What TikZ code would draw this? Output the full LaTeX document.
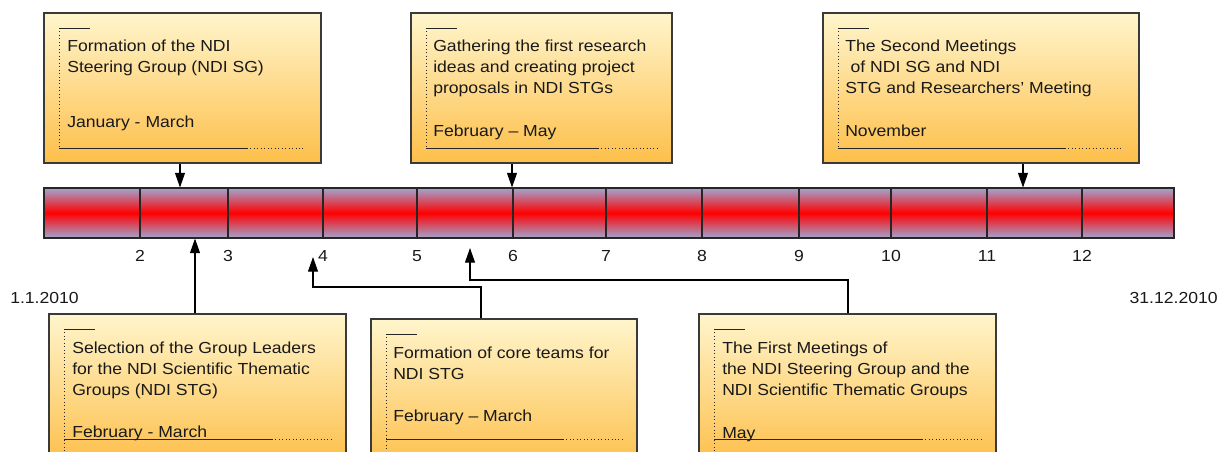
\documentclass[tikz,border=0pt]{standalone}
\usepackage{fontspec}
\setmainfont{Liberation Sans}[FakeStretch=1.1]
\usetikzlibrary{fit,arrows.meta}
\definecolor{boxtop}{HTML}{FFF5CC}
\definecolor{boxbot}{HTML}{FDBF4A}
\definecolor{barblue}{HTML}{A0A6D2}
\definecolor{edge}{HTML}{3A3A3A}
\newcommand\boxdeco[6]{%
  \draw[dotrule] (#1,#2) -- (#1,#4);
  \draw[solidrule] (#1,#2) -- ({#1+31},#2);
  \draw[solidrule] (#1,#3) -- (#5,#3);
  \draw[dotrule] (#5,#3) -- (#6,#3);
}
\begin{document}
\begin{tikzpicture}[x=0.75pt,y=-0.75pt,
  box/.style={draw=edge,line width=0.9pt,top color=boxtop,bottom color=boxbot,inner sep=0pt},
  seg/.style={draw=black!85,line width=0.8pt,top color=barblue,bottom color=barblue,middle color=red,inner sep=0pt},
  arr/.style={draw=black,line width=0.8pt,-{Triangle[length=11pt,width=7.5pt]}},
  txt/.style={font=\fontsize{12}{15.75}\selectfont,align=left,anchor=base west,inner sep=0pt,text=black!90},
  lbl/.style={font=\fontsize{12}{15.75}\selectfont,inner sep=0pt,anchor=base,text=black!90},
  solidrule/.style={line width=0.6pt,draw=black!85},
  dotrule/.style={line width=0.6pt,dotted,draw=black!85}]
\useasboundingbox (0,0) rectangle (1231,451);
\clip (0,0) rectangle (1231,451);

% month bar
\node[seg,fit={(44,188) (140,238)}] (m1) {};
\node[seg,fit={(140,188) (228,238)}] (m2) {};
\node[seg,fit={(228,188) (323,238)}] (m3) {};
\node[seg,fit={(323,188) (417,238)}] (m4) {};
\node[seg,fit={(417,188) (513,238)}] (m5) {};
\node[seg,fit={(513,188) (606,238)}] (m6) {};
\node[seg,fit={(606,188) (702,238)}] (m7) {};
\node[seg,fit={(702,188) (799,238)}] (m8) {};
\node[seg,fit={(799,188) (891,238)}] (m9) {};
\node[seg,fit={(891,188) (987,238)}] (m10) {};
\node[seg,fit={(987,188) (1082,238)}] (m11) {};
\node[seg,fit={(1082,188) (1174,238)}] (m12) {};

% month numbers
\node[lbl] (n2) at (140,261) {2};
\node[lbl] (n3) at (228,261) {3};
\node[lbl] (n4) at (323,261) {4};
\node[lbl] (n5) at (417,261) {5};
\node[lbl] (n6) at (513,261) {6};
\node[lbl] (n7) at (606,261) {7};
\node[lbl] (n8) at (702,261) {8};
\node[lbl] (n9) at (799,261) {9};
\node[lbl] (n10) at (891,261) {10};
\node[lbl] (n11) at (987,261) {11};
\node[lbl] (n12) at (1082,261) {12};

\node[lbl,anchor=base west] (start) at (10,303) {1.1.2010};
\node[lbl,anchor=base east] (end) at (1218,303) {31.12.2010};

% top boxes
\node[box,fit={(44,13) (321,163)}] (box1) {};
\boxdeco{59}{28}{148}{148}{247}{305}
\node[txt] (t1) at (67,72) {Formation of the NDI\\Steering Group (NDI SG)};
\node[txt] (d1) at (67,127) {January - March};

\node[box,fit={(411,13) (672,163)}] (box2) {};
\boxdeco{426}{28}{148}{148}{598}{657}
\node[txt] (t2) at (433,93) {Gathering the first research\\ideas and creating project\\proposals in NDI STGs};
\node[txt] (d2) at (433,136) {February – May};

\node[box,fit={(823,13) (1139,163)}] (box3) {};
\boxdeco{838}{28}{148}{148}{1065}{1123}
\node[txt] (t3) at (845,93) {The Second Meetings\\\hspace*{4pt}of NDI SG and NDI\\STG and Researchers’ Meeting};
\node[txt] (d3) at (845,136) {November};

% bottom boxes
\node[box,fit={(49,314) (346,464)}] (box4) {};
\boxdeco{64}{329}{439}{460}{272}{331}
\node[txt] (t4) at (72,395) {Selection of the Group Leaders\\for the NDI Scientific Thematic\\Groups (NDI STG)};
\node[txt] (d4) at (72,437) {February - March};

\node[box,fit={(371,319) (637,469)}] (box5) {};
\boxdeco{386}{334}{439}{460}{563}{622}
\node[txt] (t5) at (393,379) {Formation of core teams for\\NDI STG};
\node[txt] (d5) at (393,421) {February – March};

\node[box,fit={(699,314) (996,464)}] (box6) {};
\boxdeco{714}{329}{439}{460}{922}{981}
\node[txt] (t6) at (722,395) {The First Meetings of\\the NDI Steering Group and the\\NDI Scientific Thematic Groups};
\node[txt] (d6) at (722,438) {May};

% connectors
\coordinate (x1) at (180,0);
\coordinate (x2) at (512,0);
\coordinate (x3) at (1023,0);
\draw[arr] (box1.south -| x1) -- (m2.north -| x1);
\draw[arr] (box2.south -| x2) -- (m6.north -| x2);
\draw[arr] (box3.south -| x3) -- (m11.north -| x3);

\coordinate (x4) at (195,0);
\draw[arr] (box4.north -| x4) -- (m2.south -| x4);

\coordinate (k5a) at (481,287);
\coordinate (k5b) at (313,287);
\coordinate (tip5) at (313,257);
\draw[arr] (box5.north -| k5a) -- (k5a) -- (k5b) -- (tip5);

\coordinate (k6a) at (848,280);
\coordinate (k6b) at (470,280);
\coordinate (tip6) at (470,248);
\draw[arr] (box6.north -| k6a) -- (k6a) -- (k6b) -- (tip6);
\end{tikzpicture}
\end{document}
